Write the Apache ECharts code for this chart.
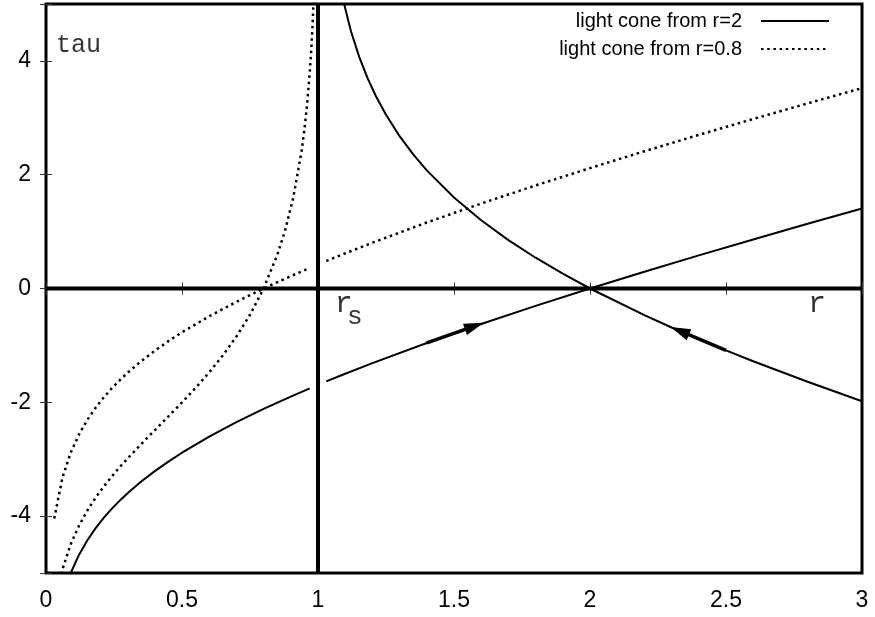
<!DOCTYPE html>
<html>
<head>
<meta charset="utf-8">
<script src="https://cdn.jsdelivr.net/npm/echarts@6/dist/echarts.min.js"></script>
<style>
  html, body { margin: 0; padding: 0; background: #fff; }
  #chart { width: 875px; height: 617px; }
</style>
</head>
<body>
<div id="chart"></div>
<script>
// outgoing light rays, sampled in r (null = break at the horizon r=1)
const rOut = [0.0303, 0.0606, 0.0909, 0.1212, 0.1515, 0.1818, 0.2121, 0.2424, 0.2727, 0.3030,
  0.35, 0.4, 0.45, 0.5, 0.6, 0.7, 0.8, 0.9, 0.9697, 1.0, 1.0303, 1.1, 1.2, 1.4, 1.6, 1.8,
  2.0, 2.2, 2.4, 2.6, 2.8, 3.0]
const tauOutFrom2 = [-6.159, -5.436, -5.000, -4.682, -4.429, -4.216, -4.032, -3.868, -3.720, -3.584,
  -3.393, -3.209, -3.042, -2.886, -2.604, -2.350, -2.116, -1.899, -1.754, null, -1.633, -1.498, -1.311, -0.957, -0.623, -0.305,
  0, 0.295, 0.582, 0.862, 1.137, 1.406]
const tauOutFrom08 = [-4.043, -3.320, -2.884, -2.566, -2.313, -2.100, -1.915, -1.752, -1.604, -1.468,
  -1.277, -1.093, -0.925, -0.770, -0.488, -0.234, 0, 0.218, 0.362, null, 0.483, 0.618, 0.805, 1.160, 1.493, 1.811,
  2.116, 2.412, 2.699, 2.979, 3.253, 3.522]

// ingoing light rays
const rInFrom2 = [1.0606, 1.0909, 1.1212, 1.1515, 1.1818, 1.2121, 1.25, 1.3, 1.35, 1.4, 1.5, 1.6,
  1.7, 1.8, 1.9, 2.0, 2.2, 2.3, 2.4, 2.5, 2.6, 2.8, 3.0]
const tauInFrom2 = [5.912, 5.099, 4.520, 4.071, 3.702, 3.388, 3.053, 2.677, 2.357, 2.076, 1.599, 1.199,
  0.851, 0.541, 0.260, 0, -0.469, -0.685, -0.891, -1.088, -1.278, -1.639, -1.981]
const rInFrom08 = [0.0303, 0.0606, 0.0909, 0.1212, 0.1515, 0.1818, 0.2121, 0.2424, 0.2727, 0.3030,
  0.35, 0.4, 0.45, 0.5, 0.55, 0.6, 0.65, 0.7, 0.75, 0.8, 0.85, 0.8788, 0.9091, 0.9394,
  0.95, 0.96, 0.97, 0.975, 0.98, 0.985]
const tauInFrom08 = [-5.661, -4.935, -4.494, -4.169, -3.906, -3.681, -3.482, -3.300, -3.131, -2.971,
  -2.734, -2.490, -2.249, -2.003, -1.747, -1.474, -1.177, -0.845, -0.461, 0, 0.586, 1.017, 1.596, 2.409,
  2.794, 3.241, 3.817, 4.182, 4.628, 5.20]

// direction arrows: [tail, head]
const arrowOut = [[1.4, -0.957], [1.575, -0.66]]
const arrowIn = [[2.5, -1.088], [2.33, -0.746]]

// horizon line r = rs and tau = 0 line
const horizon = [[1, -5], [1, 5]]
const zeroLine = [[0, 0], [3, 0]]

const xTicks = [0, 0.5, 1, 1.5, 2, 2.5, 3]
const yTicks = [-4, -2, 0, 2, 4]

const names = ['light cone from r=2', 'light cone from r=0.8']

function zip(xs, ys) {
  return xs.map((x, i) => [x, ys[i] == null ? '-' : ys[i]])
}

const solid = { color: '#000', width: 2 }
const dotted = { color: '#000', width: 2.5, type: [2.5, 3.7], cap: 'butt' }
const monoFont = 'Liberation Mono, DejaVu Sans Mono, monospace'
const sansFont = 'Liberation Sans, Arial, sans-serif'

function arrowMark(a) {
  return {
    silent: true,
    symbol: ['none', 'triangle'],
    lineStyle: { color: '#000', width: 3.5, type: 'solid' },
    label: { show: false },
    data: [[
      { coord: a[0], symbol: 'none' },
      { coord: a[1], symbol: 'triangle', symbolSize: [12, 20], itemStyle: { color: '#000' } }
    ]]
  }
}

const tickStyle = { inside: true, length: 6, lineStyle: { color: '#333', width: 1 } }

const chart = echarts.init(document.getElementById('chart'))
chart.setOption({
  backgroundColor: '#fff',
  animation: false,
  grid: {
    left: 46,
    right: 13,
    top: 4,
    bottom: 44,
    show: true,
    borderColor: '#000',
    borderWidth: 3,
    backgroundColor: 'transparent'
  },
  legend: {
    show: true,
    orient: 'vertical',
    right: 45,
    top: 11,
    padding: 0,
    align: 'right',
    itemWidth: 68,
    itemHeight: 14,
    itemGap: 8,
    selectedMode: false,
    data: [names[0], names[1]],
    itemStyle: { color: 'transparent', borderColor: 'transparent', borderWidth: 0 },
    textStyle: {
      fontFamily: sansFont,
      fontSize: 20,
      color: '#000',
      padding: [0, 14, 0, 0]
    }
  },
  xAxis: [{
    type: 'value',
    min: 0,
    max: 3,
    interval: 0.5,
    axisLine: { show: false },
    axisTick: tickStyle,
    splitLine: { show: false },
    axisLabel: {
      margin: 16,
      fontSize: 23,
      color: '#000',
      fontFamily: sansFont,
      formatter: v => xTicks.includes(v) ? String(v) : ''
    }
  }, {
    type: 'value',
    position: 'top',
    min: 0,
    max: 3,
    interval: 0.5,
    axisLine: { show: false },
    axisTick: tickStyle,
    splitLine: { show: false },
    axisLabel: { show: false }
  }],
  yAxis: [{
    type: 'value',
    min: -5,
    max: 5,
    splitNumber: 5,
    axisLine: { show: false },
    axisTick: tickStyle,
    splitLine: { show: false },
    axisLabel: {
      margin: 15,
      fontSize: 23,
      color: '#000',
      fontFamily: sansFont,
      formatter: v => yTicks.includes(v) ? String(v) : ''
    }
  }, {
    type: 'value',
    position: 'right',
    min: -5,
    max: 5,
    splitNumber: 5,
    axisLine: { show: false },
    axisTick: tickStyle,
    splitLine: { show: false },
    axisLabel: { show: false }
  }],
  series: [
    {
      type: 'line', data: horizon, symbol: 'none', silent: true,
      lineStyle: { color: '#000', width: 4 }, z: 1
    },
    {
      type: 'line', data: zeroLine, symbol: 'none', silent: true,
      lineStyle: { color: '#000', width: 4 }, z: 1
    },
    {
      type: 'line', name: names[0], data: zip(rOut, tauOutFrom2), symbol: 'none',
      lineStyle: solid, itemStyle: { color: '#000' }, connectNulls: false, z: 3,
      markLine: arrowMark(arrowOut)
    },
    {
      type: 'line', name: names[0], data: zip(rInFrom2, tauInFrom2), symbol: 'none',
      lineStyle: solid, itemStyle: { color: '#000' }, z: 3,
      markLine: arrowMark(arrowIn)
    },
    {
      type: 'line', name: names[1], data: zip(rOut, tauOutFrom08), symbol: 'none',
      lineStyle: dotted, itemStyle: { color: '#000' }, connectNulls: false, z: 3
    },
    {
      type: 'line', name: names[1], data: zip(rInFrom08, tauInFrom08), symbol: 'none',
      lineStyle: dotted, itemStyle: { color: '#000' }, z: 3
    },
    {
      type: 'scatter', symbolSize: 1, silent: true,
      itemStyle: { color: 'transparent' },
      label: {
        show: true, position: 'right', distance: 0, color: '#000', fontFamily: monoFont,
        formatter: p => p.data.text
      },
      data: [
        { value: [0.035, 4.28], text: 'tau', label: { fontSize: 25 } },
        { value: [1.06, -0.28], text: 'r', label: { fontSize: 30 } },
        { value: [1.105, -0.5], text: 's', label: { fontSize: 26 } },
        { value: [2.8, -0.27], text: 'r', label: { fontSize: 30 } }
      ]
    }
  ]
})
</script>
</body>
</html>
